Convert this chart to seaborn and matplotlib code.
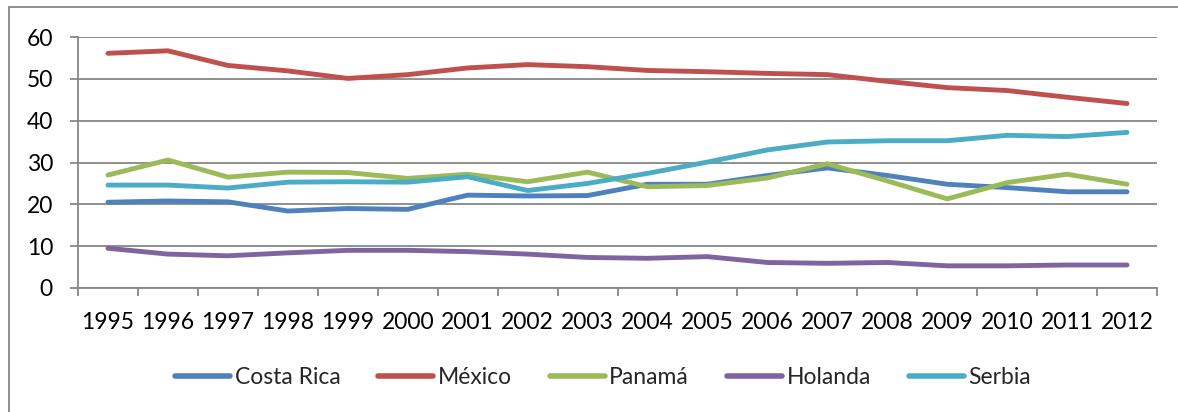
import matplotlib
matplotlib.use("Agg")
import matplotlib.pyplot as plt
from matplotlib.patches import Rectangle
from matplotlib.ticker import FixedLocator
import numpy as np
import pandas as pd
import seaborn as sns

years = list(range(1995, 2013))
costa_rica = [20.5, 20.8, 20.6, 18.4, 19.0, 18.8, 22.2, 22.0, 22.1, 24.8, 24.8, 26.9, 28.7, 26.9, 24.8, 24.0, 23.0, 23.0]
mexico = [56.1, 56.7, 53.2, 51.9, 50.1, 51.0, 52.6, 53.4, 52.9, 52.0, 51.7, 51.3, 51.0, 49.4, 47.9, 47.2, 45.6, 44.1]
panama = [27.0, 30.6, 26.5, 27.7, 27.6, 26.2, 27.2, 25.4, 27.7, 24.2, 24.5, 26.3, 29.7, 25.6, 21.3, 25.2, 27.2, 24.8]
holanda = [9.5, 8.1, 7.7, 8.4, 9.0, 9.0, 8.7, 8.1, 7.3, 7.1, 7.5, 6.1, 5.9, 6.1, 5.3, 5.3, 5.5, 5.5]
serbia = [24.6, 24.6, 23.9, 25.3, 25.4, 25.3, 26.6, 23.3, 25.0, 27.4, 30.1, 33.0, 34.9, 35.2, 35.2, 36.5, 36.2, 37.2]

countries = ["Costa Rica", "México", "Panamá", "Holanda", "Serbia"]
series = [costa_rica, mexico, panama, holanda, serbia]
colors = ["#4F81BD", "#C0504D", "#9BBB59", "#8064A2", "#4BACC6"]

df = pd.DataFrame({
    "year": years * len(countries),
    "value": sum(series, []),
    "country": np.repeat(countries, len(years)),
})

sns.set_theme(style="white")
plt.rcParams["font.family"] = ["Lato", "DejaVu Sans"]

W, H = 1178, 412
fig = plt.figure(figsize=(W / 100, H / 100), dpi=100)
ax = fig.add_axes([78 / W, 1 - 288 / H, (1157 - 78) / W, (288 - 37) / H])

grid_color = "#878787"

sns.lineplot(data=df, x="year", y="value", hue="country", hue_order=countries,
             palette=dict(zip(countries, colors)), linewidth=3.5, sort=False,
             ax=ax, legend=True)
for line in ax.get_lines():
    line.set_solid_capstyle("round")
    line.set_solid_joinstyle("round")

ax.set_xlim(years[0] - 0.5, years[-1] + 0.5)
ax.set_ylim(0, 60)
ax.set_yticks(range(0, 61, 10))
ax.set_xticks(years)
ax.set_xticklabels([str(y) for y in years])
ax.xaxis.set_minor_locator(FixedLocator([y - 0.5 for y in years] + [years[-1] + 0.5]))
ax.set_xlabel("")
ax.set_ylabel("")

ax.yaxis.grid(True, color=grid_color, linewidth=1.3)
ax.xaxis.grid(False)
ax.set_axisbelow(True)

for side in ["top", "right"]:
    ax.spines[side].set_visible(False)
for side in ["left", "bottom"]:
    ax.spines[side].set_color(grid_color)
    ax.spines[side].set_linewidth(1.3)

ax.tick_params(axis="y", which="major", left=True, length=6, width=1.3,
               color=grid_color, pad=12, labelsize=16.5, labelcolor="black")
ax.tick_params(axis="x", which="major", bottom=False, length=0, pad=17,
               labelsize=16.5, labelcolor="black")
ax.tick_params(axis="x", which="minor", bottom=True, length=6, width=1.3,
               color=grid_color)

handles, labels = ax.get_legend_handles_labels()
ax.get_legend().remove()
for h in handles:
    h.set_linewidth(4)
    h.set_solid_capstyle("round")
fig.legend(handles, labels, loc="center", bbox_to_anchor=(603 / W, 1 - 378 / H),
           ncol=5, frameon=False, fontsize=16.5, handlelength=2.4,
           handletextpad=0.2, columnspacing=1.65, borderaxespad=0)

fig.patches.append(Rectangle((9 / W, -0.1), 1.2, 1 - 7 / H + 0.1,
                             transform=fig.transFigure, fill=False,
                             edgecolor="#868686", linewidth=1.3))

fig.savefig("out.png", dpi=100)
